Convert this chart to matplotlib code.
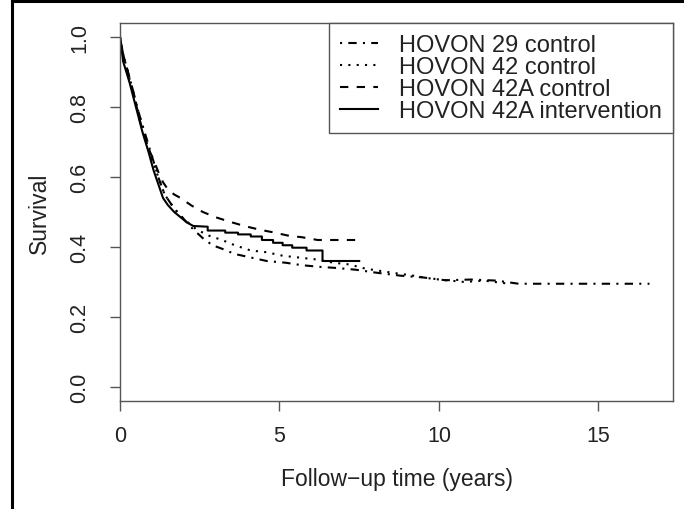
import numpy as np
import matplotlib.pyplot as plt
from matplotlib.lines import Line2D

plt.rcParams['font.family'] = ['Liberation Sans', 'DejaVu Sans']

# (years, survival)
t_h29 = [0, 0.1, 0.25, 0.4, 0.6, 0.8, 1.0, 1.2, 1.4, 1.7, 2.0, 2.3, 2.6, 2.9, 3.2, 3.6,
         4.0, 4.6, 5.2, 5.7, 6.3, 6.8, 7.4, 8.0, 8.8, 9.5, 10.2, 11.0, 11.8, 12.5, 16.6]
s_h29 = [1.0, 0.95, 0.90, 0.85, 0.78, 0.72, 0.66, 0.60, 0.55, 0.51, 0.48, 0.45, 0.425, 0.405, 0.395, 0.38,
         0.372, 0.36, 0.355, 0.348, 0.343, 0.34, 0.335, 0.327, 0.318, 0.313, 0.305, 0.307, 0.304, 0.295, 0.295]

t_h42 = [0, 0.1, 0.25, 0.4, 0.6, 0.8, 1.0, 1.2, 1.4, 1.7, 2.0, 2.4, 2.8, 3.2, 3.6, 4.1,
         4.6, 5.1, 5.6, 6.2, 6.7, 7.2, 7.7, 8.5, 9.2, 9.8, 10.8, 11.4, 12.2]
s_h42 = [1.0, 0.95, 0.90, 0.84, 0.78, 0.71, 0.65, 0.60, 0.55, 0.51, 0.48, 0.45, 0.432, 0.42, 0.405, 0.39,
         0.385, 0.375, 0.37, 0.364, 0.355, 0.35, 0.338, 0.327, 0.318, 0.309, 0.30, 0.304, 0.295]

t_h42a_c = [0, 0.1, 0.25, 0.4, 0.6, 0.75, 0.9, 1.05, 1.2, 1.35, 1.5, 1.7, 1.9, 2.25, 2.6, 3.0,
            3.45, 3.9, 4.4, 4.8, 5.3, 5.7, 6.2, 7.5]
s_h42a_c = [1.0, 0.95, 0.90, 0.85, 0.77, 0.72, 0.68, 0.65, 0.615, 0.585, 0.565, 0.55, 0.54, 0.518, 0.50, 0.485,
            0.472, 0.46, 0.449, 0.442, 0.432, 0.428, 0.42, 0.42]

# visible steps of the intervention arm are kept as repeated times
t_h42a_i = [0, 0.1, 0.3, 0.5, 0.7, 0.9, 1.05, 1.2, 1.35, 1.5, 1.7, 1.9, 2.1, 2.3,
            2.75, 2.75, 3.3, 3.3, 3.7, 3.7, 4.1, 4.1, 4.45, 4.45, 4.8, 4.8, 5.1, 5.1,
            5.4, 5.4, 5.85, 5.85, 6.35, 6.35, 7.5]
s_h42a_i = [1.0, 0.93, 0.87, 0.80, 0.73, 0.67, 0.62, 0.58, 0.54, 0.52, 0.50, 0.485, 0.47, 0.46,
            0.458, 0.447, 0.447, 0.441, 0.441, 0.436, 0.436, 0.43, 0.43, 0.42, 0.42, 0.412, 0.412, 0.405,
            0.405, 0.398, 0.398, 0.39, 0.39, 0.36, 0.36]

labels = ['HOVON 29 control', 'HOVON 42 control', 'HOVON 42A control', 'HOVON 42A intervention']

fig = plt.figure(figsize=(6.84, 5.10), dpi=100)
ax = fig.add_axes([0.1754, 0.2118, 0.8086, 0.7411])

lw = 1.5
ax.plot(t_h29, s_h29, color='black', lw=lw, dashes=(1, 3, 4, 3), label=labels[0])
ax.plot(t_h42, s_h42, color='black', lw=lw, dashes=(1, 3), label=labels[1])
ax.plot(t_h42a_c, s_h42a_c, color='black', lw=lw, dashes=(4, 4), label=labels[2])
ax.plot(t_h42a_i, s_h42a_i, color='black', lw=lw, label=labels[3])

ax.set_xlim(0, 17.34)
ax.set_ylim(-0.04, 1.04)
ax.set_xticks([0, 5, 10, 15])
ax.set_yticks([0.0, 0.2, 0.4, 0.6, 0.8, 1.0])
ax.set_yticklabels(['0.0', '0.2', '0.4', '0.6', '0.8', '1.0'], rotation=90, va='center')

grey = '#555555'
txt = '#222222'
for sp in ax.spines.values():
    sp.set_color(grey)
    sp.set_linewidth(1.0)
ax.tick_params(axis='both', length=7.5, width=1.0, color=grey, labelsize=15.5, labelcolor=txt)
ax.tick_params(axis='x', pad=10)
ax.tick_params(axis='y', pad=14)

ax.set_xlabel('Follow\u2212up time (years)', fontsize=16.5, color=txt, labelpad=15)
ax.set_ylabel('Survival', fontsize=16.5, color=txt, labelpad=13)

leg = ax.legend(loc='upper right', borderaxespad=0, fancybox=False, framealpha=1,
                edgecolor=grey, fontsize=17, handlelength=1.6, handletextpad=0.9,
                labelspacing=0.0, borderpad=0.47, labelcolor=txt)
leg.get_frame().set_linewidth(1.0)

# outer frame lines on the left and top of the figure
fig.add_artist(Line2D([12 / 684, 12 / 684], [0, 1 - 2 / 510], color='black', lw=2.2,
                      transform=fig.transFigure))
fig.add_artist(Line2D([12 / 684, 1], [1 - 2 / 510, 1 - 2 / 510], color='black', lw=2.2,
                      transform=fig.transFigure))

fig.savefig('out.png', dpi=100)
